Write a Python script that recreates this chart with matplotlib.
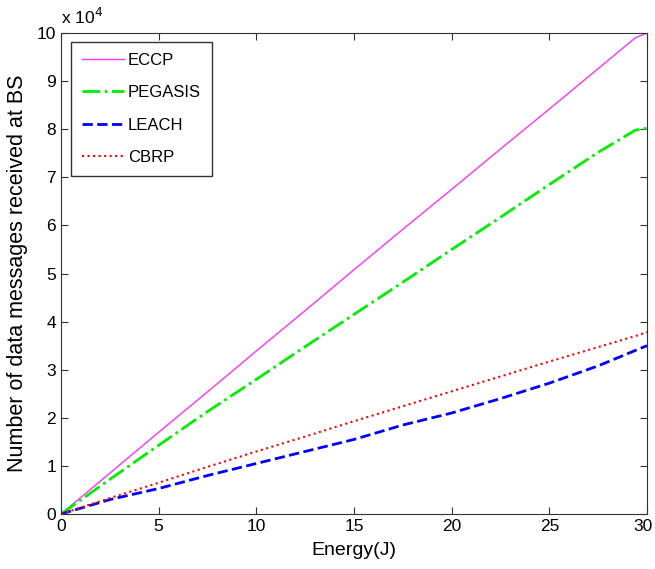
import matplotlib
matplotlib.use("Agg")
import matplotlib.pyplot as plt
import matplotlib.transforms as mtransforms
from matplotlib.ticker import FuncFormatter

plt.rcParams['font.family'] = ['Liberation Sans', 'DejaVu Sans']

energy = [0, 2.5, 5, 7.5, 10, 12.5, 15, 17.5, 20, 22.5, 25, 27.5, 29.4, 30]
eccp = [0, 8500, 17000, 25400, 33900, 42300, 50800, 59200, 67500, 75900, 84200, 92600, 99000, 100000]
pegasis = [0, 7200, 14300, 21300, 28000, 34800, 41500, 48200, 55000, 61700, 68500, 75200, 79800, 80200]
leach = [0, 3000, 5300, 8000, 10500, 13000, 15500, 18500, 21000, 24000, 27200, 30800, 34000, 35000]
cbrp = [0, 3300, 6500, 9800, 13000, 16100, 19300, 22400, 25500, 28600, 31700, 34700, 37000, 37800]

names = ['ECCP', 'PEGASIS', 'LEACH', 'CBRP']

fig = plt.figure(figsize=[6.55, 5.69], dpi=100)
ax = fig.add_axes([61/655, 1-514/569, 586/655, 481/569])

ax.plot(energy, eccp, '-', color='#ff33ff', lw=1.0, label=names[0])
ax.plot(energy, pegasis, '-.', color='#00ee00', lw=2.0, label=names[1])
ax.plot(energy, leach, '--', color='#0000ff', lw=2.0, label=names[2])
ax.plot(energy, cbrp, ':', color='#ff0000', lw=1.5, label=names[3])

ax.set_xlim(0, 30)
ax.set_ylim(0, 100000)
ax.set_xticks(range(0, 31, 5))
ax.set_yticks(range(0, 100001, 10000))
ax.yaxis.set_major_formatter(FuncFormatter(lambda v, p: '%d' % round(v / 10000)))
ax.tick_params(direction='in', top=True, right=True, labelsize=12.5, length=5,
               color='#333333', labelcolor='black')
for s in ax.spines.values():
    s.set_color('#333333')

# nudge the last x tick label so it stays inside the figure
last = ax.get_xticklabels()[-1]
last.set_transform(last.get_transform() +
                   mtransforms.ScaledTranslation(-4/100, 0, fig.dpi_scale_trans))

ax.text(0.0, 1.012, r'x 10$^{4}$', transform=ax.transAxes, fontsize=12.5,
        ha='left', va='bottom')

ax.set_xlabel('Energy(J)', fontsize=14, labelpad=6)
ax.set_ylabel('Number of data messages received at BS', fontsize=15.5, labelpad=6)

leg = ax.legend(loc='upper left', bbox_to_anchor=(10/586, 1-9/481), fontsize=12,
                fancybox=False, edgecolor='#333333', framealpha=1,
                handlelength=2.5, handletextpad=0.25, labelspacing=1.05,
                borderpad=0.65, borderaxespad=0)
leg.get_frame().set_linewidth(1.0)

fig.savefig('out.png', dpi=100)
